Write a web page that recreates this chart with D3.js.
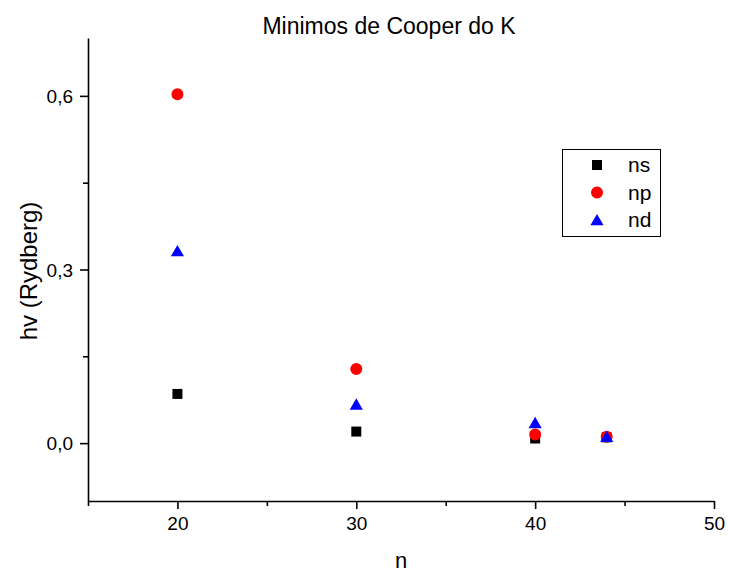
<!DOCTYPE html>
<html>
<head>
<meta charset="utf-8">
<script src="https://cdn.jsdelivr.net/npm/d3@7"></script>
<style>
  body { margin: 0; background: #fff; }
  text { font-family: "Liberation Sans", Arial, sans-serif; }
</style>
</head>
<body>
<div id="chart"></div>
<script>
// values
var nValues = [20, 30, 40, 44];
var nsValues = [0.085, 0.020, 0.008, 0.010];
var npValues = [0.603, 0.128, 0.015, 0.011];
var ndValues = [0.332, 0.067, 0.035, 0.011];
var seriesNames = ["ns", "np", "nd"];
var xMajorTicks = [20, 30, 40, 50];
var xMinorTicks = [15, 25, 35, 45];
var yMajorTicks = [0, 0.3, 0.6];
var yMinorTicks = [0.15, 0.45];

(function(){

    var W = 729, H = 573;
    var mLeft = 88, mRight = 714, mTop = 38, mBottom = 501;

    var svg = d3.select("#chart").append("svg")
        .attr("width", W)
        .attr("height", H);

    var x = d3.scaleLinear().domain([15, 50]).range([mLeft, mRight]);
    var y = d3.scaleLinear().domain([-0.1, 0.7]).range([mBottom, mTop]);

    var fmt = function(v){ return d3.format(".1f")(v).replace(".", ","); };

    // minor ticks first, then the major axis on top
    svg.append("g")
        .attr("transform", "translate(0," + mBottom + ")")
        .call(d3.axisBottom(x).tickValues(xMinorTicks).tickSize(5).tickFormat(""))
        .call(function(g){ g.select(".domain").remove(); });
    svg.append("g")
        .attr("transform", "translate(" + mLeft + ",0)")
        .call(d3.axisLeft(y).tickValues(yMinorTicks).tickSize(5).tickFormat(""))
        .call(function(g){ g.select(".domain").remove(); });

    var xAxis = svg.append("g")
        .attr("transform", "translate(0," + mBottom + ")")
        .call(d3.axisBottom(x).tickValues(xMajorTicks).tickSize(8).tickSizeOuter(0).tickPadding(8));
    var yAxis = svg.append("g")
        .attr("transform", "translate(" + mLeft + ",0)")
        .call(d3.axisLeft(y).tickValues(yMajorTicks).tickSize(8).tickSizeOuter(0).tickPadding(7).tickFormat(fmt));

    svg.selectAll(".domain, .tick line")
        .attr("stroke", "#000")
        .attr("stroke-width", 1.6);
    xAxis.selectAll("text").attr("font-size", 19).attr("fill", "#000");
    yAxis.selectAll("text").attr("font-size", 19).attr("fill", "#000").attr("dy", "0.35em");

    // title and axis labels
    svg.append("text")
        .attr("x", 389).attr("y", 34)
        .attr("text-anchor", "middle")
        .attr("font-size", 23)
        .text("Minimos de Cooper do K");

    svg.append("text")
        .attr("x", 401).attr("y", 568)
        .attr("text-anchor", "middle")
        .attr("font-size", 22)
        .text("n");

    svg.append("text")
        .attr("transform", "translate(37,271) rotate(-90)")
        .attr("text-anchor", "middle")
        .attr("font-size", 24)
        .text("hv (Rydberg)");

    // series
    var series = [
        {name: "ns", values: nsValues, color: "#000000", shape: d3.symbolSquare, size: 100},
        {name: "np", values: npValues, color: "#ff0000", shape: d3.symbolCircle, size: 113},
        {name: "nd", values: ndValues, color: "#0000ff", shape: d3.symbolTriangle, size: 75}
    ];

    series.forEach(function(s){
        svg.append("g").selectAll("path")
            .data(nValues.map(function(n, i){ return {n: n, v: s.values[i]}; }))
            .join("path")
            .attr("d", d3.symbol().type(s.shape).size(s.size))
            .attr("transform", function(d){
                var dy = s.shape === d3.symbolTriangle ? 1.5 : 0;
                return "translate(" + x(d.n) + "," + (y(d.v) + dy) + ")";
            })
            .attr("fill", s.color);
    });

    // legend
    var legend = svg.append("g");
    legend.append("rect")
        .attr("x", 562.5).attr("y", 149.5)
        .attr("width", 98).attr("height", 87)
        .attr("fill", "none")
        .attr("stroke", "#000")
        .attr("stroke-width", 1);

    series.forEach(function(s, i){
        var ry = 165 + i * 27.5;
        legend.append("path")
            .attr("d", d3.symbol().type(s.shape).size(s.size))
            .attr("transform", "translate(597," + (ry + (s.shape === d3.symbolTriangle ? 1.5 : 0)) + ")")
            .attr("fill", s.color);
        legend.append("text")
            .attr("x", 628).attr("y", ry)
            .attr("dy", "0.35em")
            .attr("font-size", 21)
            .text(seriesNames[i]);
    });

})();
</script>
</body>
</html>
